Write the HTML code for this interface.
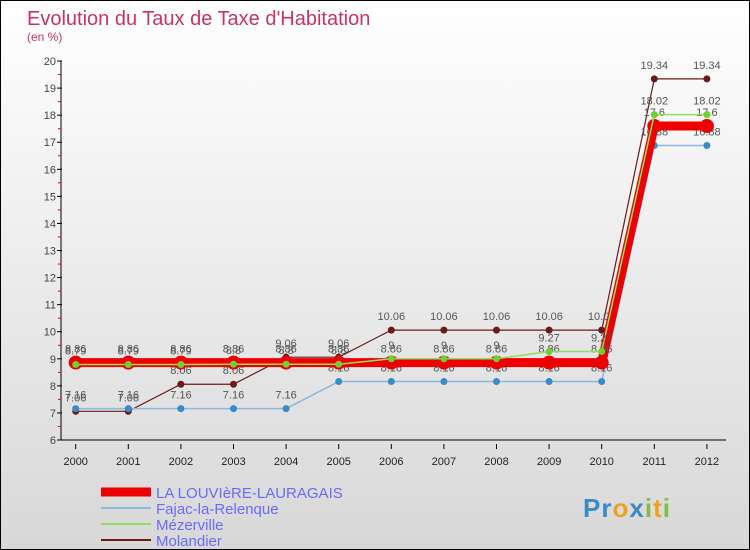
<!DOCTYPE html>
<html><head><meta charset="utf-8"><style>
body{margin:0;width:750px;height:550px;overflow:hidden;font-family:"Liberation Sans",sans-serif}
#wrap{position:relative;width:748px;height:548px;border:1px solid #000;background:linear-gradient(#fff,#d8d8d8)}
</style></head><body>
<div id="wrap">
<svg id="chart" width="748" height="548" style="position:absolute;left:0;top:0"></svg>
</div>
<script>
const years=[2000,2001,2002,2003,2004,2005,2006,2007,2008,2009,2010,2011,2012];
const yTicks=[6,7,8,9,10,11,12,13,14,15,16,17,18,19,20];
const louviere=[8.86,8.86,8.86,8.86,8.86,8.86,8.86,8.86,8.86,8.86,8.86,17.6,17.6];
const fajac=[7.16,7.16,7.16,7.16,7.16,8.16,8.16,8.16,8.16,8.16,8.16,16.88,16.88];
const mezerville=[8.79,8.79,8.79,8.8,8.8,8.8,9,9,9,9.27,9.27,18.02,18.02];
const molandier=[7.06,7.06,8.06,8.06,9.06,9.06,10.06,10.06,10.06,10.06,10.06,19.34,19.34];
const series=[
 {name:'Molandier',vals:molandier,color:'#6b1a1a',w:1.2,r:3.5,fill:'#6b1a1a',key:'molandier'},
 {name:'Fajac-la-Relenque',vals:fajac,color:'#8ab8e0',w:1.5,r:3.5,fill:'#3a8ac8',key:'fajac'},
 {name:'LA LOUVIèRE-LAURAGAIS',vals:louviere,color:'#ee0000',w:9,r:7,fill:'#ee0000',key:'louviere'},
 {name:'Mézerville',vals:mezerville,color:'#90e060',w:1.5,r:3.5,fill:'#70d030',key:'mezerville'}
];
const NS='http://www.w3.org/2000/svg';
const svg=document.getElementById('chart');
const x=i=>74.7+i*52.6;
const y=v=>439-(v-6)*27.07;
function mk(t,a,p){const e=document.createElementNS(NS,t);for(const k in a)e.setAttribute(k,a[k]);(p||svg).appendChild(e);return e;}
let t=mk('text',{x:26,y:24,'font-size':20,fill:'#c8336a'});t.textContent="Evolution du Taux de Taxe d'Habitation";


t=mk('text',{x:26,y:40,'font-size':12,fill:'#c8336a'});t.textContent="(en %)";


let ax=mk('line',{x1:60,y1:y(20),x2:60,y2:y(6),stroke:'#000'});


yTicks.forEach(v=>{
 mk('line',{x1:56,y1:y(v),x2:61,y2:y(v),stroke:'#000'});
 if(v<20){mk('line',{x1:57,y1:y(v+0.5),x2:60,y2:y(v+0.5),stroke:'#e00'});}
 const l=mk('text',{x:55,y:y(v)+4,'font-size':11,fill:'#444','text-anchor':'end'});l.textContent=v;
 
 
});
let xa=mk('line',{x1:60,y1:y(6),x2:725,y2:y(6),stroke:'#000'});


years.forEach((yr,i)=>{
 mk('line',{x1:x(i),y1:y(6)+4,x2:x(i),y2:y(6)+9,stroke:'#000'});
 const l=mk('text',{x:x(i),y:y(6)+25,'font-size':11,fill:'#222','text-anchor':'middle'});l.textContent=yr;
 
 
});
series.forEach(s=>{
 const g=mk('g',{});
 
 
 mk('polyline',{points:s.vals.map((v,i)=>x(i)+','+y(v)).join(' '),fill:'none',stroke:s.color,'stroke-width':s.w},g);
 s.vals.forEach((v,i)=>{
  const c=mk('circle',{cx:x(i),cy:y(v),r:s.r,fill:s.fill},g);
  
  
  const l=mk('text',{x:x(i),y:y(v)-10,'font-size':11,fill:'#555','text-anchor':'middle'},g);l.textContent=v;
  
  
 });
});
const leg=[['LA LOUVIèRE-LAURAGAIS','#ee0000',9],['Fajac-la-Relenque','#8ab8e0',2],['Mézerville','#90e060',2],['Molandier','#6b1a1a',2]];
leg.forEach((l,i)=>{
 const g=mk('g',{});
 
 
 const yy=491+i*16;
 mk('line',{x1:100,y1:yy,x2:150,y2:yy,stroke:l[1],'stroke-width':l[2]},g);
 const tx=mk('text',{x:155,y:yy+6,'font-size':15,fill:'#6a6aff'},g);tx.textContent=l[0];
});
const logo=mk('text',{x:582,y:516,'font-size':26,'font-weight':'bold','letter-spacing':1});


[['P','#3a8ac8'],['r','#3a8ac8'],['o','#f0a020'],['x','#3a8ac8'],['i','#80c040'],['t','#f0a020'],['i','#80c040']].forEach(c=>{const s=mk('tspan',{fill:c[1]},logo);s.textContent=c[0];});
</script>
</body></html>
